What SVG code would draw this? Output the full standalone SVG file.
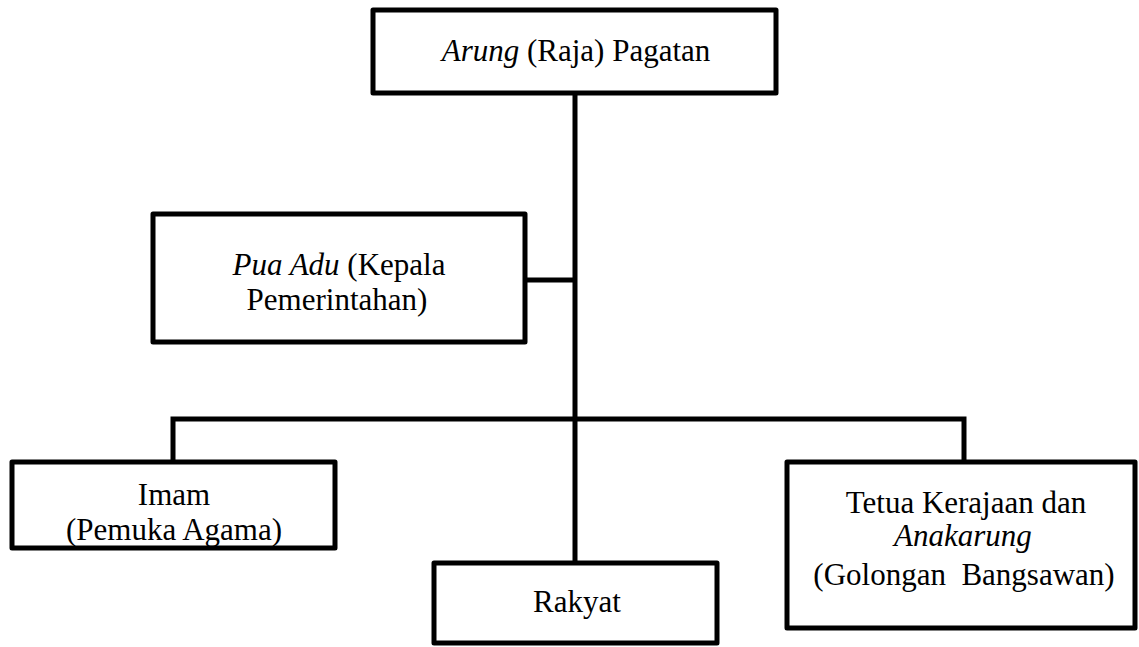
<svg xmlns="http://www.w3.org/2000/svg" width="1139" height="647" viewBox="0 0 1139 647">
<style>
.box{fill:#fff;stroke:#000;stroke-width:5;stroke-linejoin:round}
.ln{fill:none;stroke:#000;stroke-width:5}
text{font-family:"Liberation Serif","Times New Roman",serif;font-size:31px;fill:#000;text-anchor:middle}
.i{font-style:italic}
</style>
<rect width="1139" height="647" fill="#fff"/>
<g id="connectors">
<path class="ln" d="M575 93V563"/>
<path class="ln" d="M525 280H575"/>
<path class="ln" d="M173 462V419H964V462"/>
</g>
<g id="arung">
<rect class="box" x="373" y="10" width="403" height="83"/>
<text x="576" y="61"><tspan class="i">Arung</tspan> (Raja) Pagatan</text>
</g>
<g id="puaadu">
<rect class="box" x="153" y="214" width="372" height="128"/>
<text><tspan x="339" y="275"><tspan class="i">Pua Adu</tspan> (Kepala</tspan><tspan x="337" y="310">Pemerintahan)</tspan></text>
</g>
<g id="imam">
<rect class="box" x="12" y="462" width="323" height="86"/>
<text><tspan x="174" y="505">Imam</tspan><tspan x="174" y="540">(Pemuka Agama)</tspan></text>
</g>
<g id="rakyat">
<rect class="box" x="434" y="563" width="283" height="80"/>
<text x="577" y="612">Rakyat</text>
</g>
<g id="tetua">
<rect class="box" x="787" y="462" width="348" height="166"/>
<text><tspan x="966" y="513">Tetua Kerajaan dan</tspan><tspan x="963" y="546" class="i">Anakarung</tspan><tspan x="964" y="585">(Golongan&#160; Bangsawan)</tspan></text>
</g>
</svg>
